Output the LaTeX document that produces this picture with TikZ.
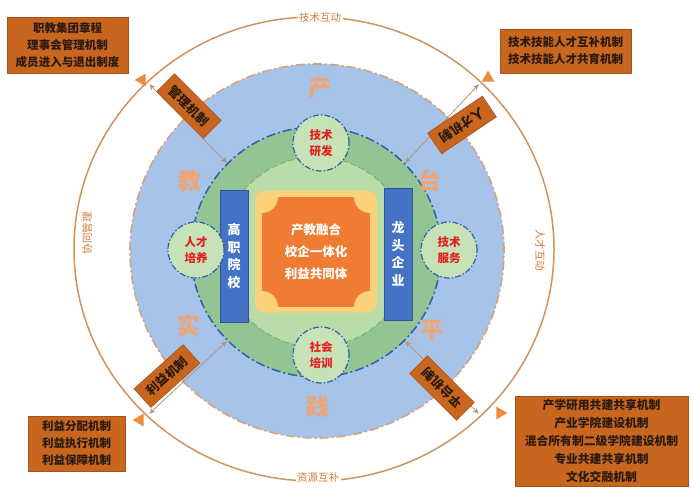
\documentclass[tikz,border=0pt]{standalone}
\usepackage{fontspec}
\setmainfont{Noto Sans CJK SC}
\usetikzlibrary{shapes.geometric,arrows.meta}
\definecolor{ringC}{HTML}{CF9460}
\definecolor{blueF}{HTML}{A6C3EA}
\definecolor{tanD}{HTML}{D6A27A}
\definecolor{greenD}{HTML}{93C493}
\definecolor{greenL}{HTML}{B9DCA8}
\definecolor{greenB}{HTML}{7FAE78}
\definecolor{blueD}{HTML}{2F5FA8}
\definecolor{smallF}{HTML}{C6E2B6}
\definecolor{redT}{HTML}{E3201E}
\definecolor{yellowF}{HTML}{FAD27C}
\definecolor{orangeF}{HTML}{F07B32}
\definecolor{barF}{HTML}{4472C4}
\definecolor{barB}{HTML}{2F5597}
\definecolor{bigT}{HTML}{EFA473}
\definecolor{boxF}{HTML}{C8661F}
\definecolor{boxB}{HTML}{A9521A}
\definecolor{boxT}{HTML}{2A1A10}
\definecolor{sideT}{HTML}{D27A3A}
\definecolor{arrC}{HTML}{B89273}
\definecolor{triO}{HTML}{EE8A3C}
\begin{document}
\begin{tikzpicture}[x=1pt,y=-1pt,
  disc/.style={circle,inner sep=0pt,outer sep=0pt},
  small/.style={circle,inner sep=0pt,outer sep=0pt,minimum size=56pt,fill=smallF,draw=blueD,line width=1.2pt,dash pattern=on 6pt off 2pt on 1.5pt off 2pt,text=redT,font=\bfseries\fontsize{11.5}{16}\selectfont,align=center},
  bar/.style={rectangle,fill=barF,draw=barB,line width=0.8pt,minimum width=28pt,minimum height=132pt,inner sep=0pt,text=white,font=\bfseries\fontsize{13}{17.5}\selectfont,align=center},
  bigc/.style={text=bigT,font=\bfseries\fontsize{23}{23}\selectfont,inner sep=0pt},
  mech/.style={rectangle,fill=boxF,draw=boxB,line width=0.6pt,minimum width=66pt,minimum height=25pt,inner sep=1pt,text=boxT,font=\bfseries\fontsize{12.5}{12.5}\selectfont},
  cbox/.style={rectangle,fill=boxF,draw=boxB,line width=0.6pt,inner sep=0pt,text=boxT,font=\bfseries\fontsize{11.5}{17}\selectfont,align=center},
  side/.style={text=sideT,font=\fontsize{10.5}{10.5}\selectfont,inner sep=1.5pt},
  rad/.style={draw=arrC,line width=0.8pt,{Stealth[length=6pt,width=5pt]}-{Stealth[length=6pt,width=5pt]}},
  tri/.style={isosceles triangle,isosceles triangle apex angle=60,fill=triO,inner sep=0pt,minimum size=11pt}
]
\useasboundingbox (0,0) rectangle (692,500);
\fill[white] (0,0) rectangle (692,500);

% outer ring
\node[ellipse,draw=ringC,line width=1.5pt,minimum width=480pt,minimum height=464pt,inner sep=0pt,outer sep=0pt] (ring) at (314,249) {};

% blue circle
\node[disc,fill=blueF,draw=tanD,line width=1.6pt,dash pattern=on 9pt off 3pt on 2pt off 3pt,minimum size=374pt] (blue) at (317,251) {};

% dark green circle
\node[disc,fill=greenD,draw=blueD,line width=1.5pt,dash pattern=on 9pt off 3pt on 2pt off 3pt,minimum size=250pt] (gc) at (316,252) {};

% light green circle
\node[disc,fill=greenL,draw=greenB,line width=1pt,dash pattern=on 6pt off 3pt,minimum size=190pt] (lc) at (316,252) {};

% yellow rounded square and orange core
\node[rectangle,rounded corners=10pt,fill=yellowF,minimum width=122pt,minimum height=122pt,inner sep=0pt] (ysq) at (316,251.5) {};
\node[rectangle,fill=orangeF,minimum width=108pt,minimum height=110pt,inner sep=0pt,outer sep=0pt,text=white,font=\bfseries\fontsize{12.5}{22}\selectfont,align=center] (core) at (316,252) {产教融合\\校企一体化\\利益共同体};
\begin{scope}
  \clip (core.south west) rectangle (core.north east);
  \fill[yellowF] (core.north west) circle (16pt);
  \fill[yellowF] (core.north east) circle (16pt);
  \fill[yellowF] (core.south west) circle (16pt);
  \fill[yellowF] (core.south east) circle (16pt);
\end{scope}

% bars
\node[bar] (gzyx) at (234,256) {高\\职\\院\\校};
\node[bar] (ltqy) at (398,254) {龙\\头\\企\\业};

% small circles
\node[small] (jsyf) at (321,143) {技术\\研发};
\node[small] (rcpy) at (196,250) {人才\\培养};
\node[small] (jsfw) at (449,250) {技术\\服务};
\node[small] (shpx) at (321,355) {社会\\培训};

% big characters
\node[bigc] (c1) at (320,88) {产};
\node[bigc] (c2) at (190,181) {教};
\node[bigc] (c3) at (189,326) {实};
\node[bigc] (c4) at (318,407) {践};
\node[bigc] (c5) at (430,180) {台};
\node[bigc] (c6) at (432,330) {平};

% radial arrows
\draw[rad,shorten <=1pt,shorten >=3pt] (gc.135) -- (ring.135);
\draw[rad,shorten <=1pt,shorten >=3pt] (gc.45) -- (ring.45);
\draw[rad,shorten <=1pt,shorten >=3pt] (gc.-45) -- (ring.-45);
\draw[rad,shorten <=1pt,shorten >=3pt] (gc.-135) -- (ring.-135);

% mechanism boxes
\node[mech,rotate=-45] (m1) at (189,106) {管理机制};
\node[mech,rotate=214] (m2) at (462,125) {人才机制};
\node[mech,rotate=135] (m3) at (442,388) {平台机制};
\node[mech,rotate=42] (m4) at (167,376) {利益机制};

% ring triangles
\node[tri,shape border rotate=135] (a1) at (142,80) {};
\node[tri,shape border rotate=60] (a2) at (488,78) {};
\node[tri,shape border rotate=0] (a3) at (500,413) {};
\node[tri,shape border rotate=150] (a4) at (140,420) {};

% side labels
\node[side,fill=white] (s1) at (320,18) {技术互动};
\node[side,fill=white] (s2) at (318,478) {资源互补};
\node[side,rotate=90] (s3) at (87,233) {协同管理};
\node[side,rotate=-90] (s4) at (540,250) {人才互动};

% corner boxes
\node[cbox,minimum width=121pt,minimum height=56pt] (b1) at (67.5,45) {职教集团章程\\理事会管理机制\\成员进入与退出制度};
\node[cbox,minimum width=131pt,minimum height=44pt] (b2) at (565.5,51) {技术技能人才互补机制\\技术技能人才共育机制};
\node[cbox,minimum width=97pt,minimum height=55pt] (b3) at (76.5,443.5) {利益分配机制\\利益执行机制\\利益保障机制};
\node[cbox,minimum width=173pt,minimum height=90pt,font=\bfseries\fontsize{11.8}{18}\selectfont] (b4) at (601.5,441) {产学研用共建共享机制\\产业学院建设机制\\混合所有制二级学院建设机制\\专业共建共享机制\\文化交融机制};
\end{tikzpicture}
\end{document}
